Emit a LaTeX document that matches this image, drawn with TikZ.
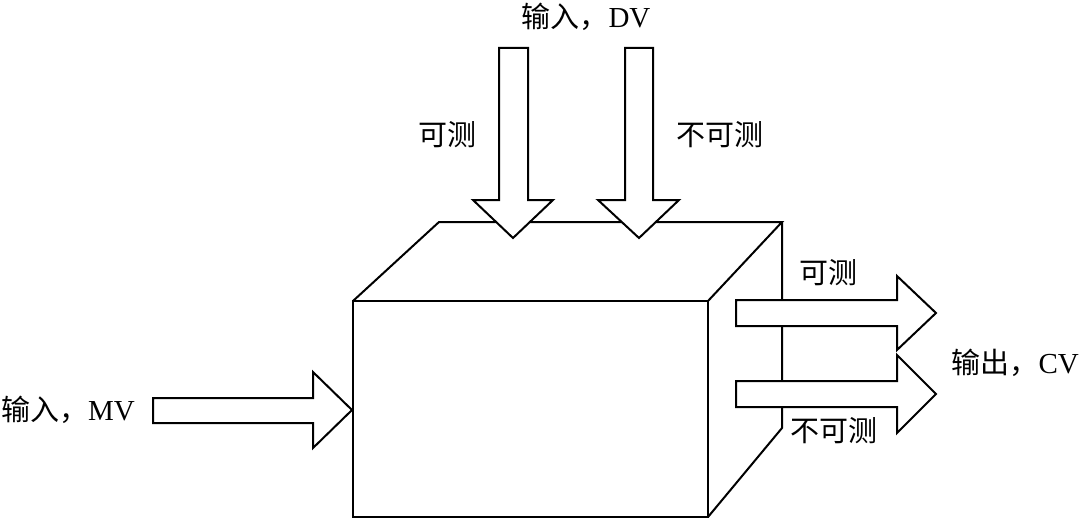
\documentclass[tikz,border=0pt]{standalone}
\usepackage{fontspec}
\setmainfont{Liberation Serif}
\newfontfamily\cjk{Noto Sans CJK SC}
\begin{document}
\begin{tikzpicture}[x=1pt,y=-1pt,
  edge/.style={draw=black,line width=2pt,line join=miter},
  fat/.style={draw=black,fill=white,line width=2pt,line join=miter},
  lbl/.style={inner sep=0pt,font=\fontsize{29}{31}\selectfont}]
\useasboundingbox (0,0) rectangle (1080,519);
% box
\draw[edge] (353,301) rectangle (708,517);
\draw[edge] (353,301) -- (439,222) -- (782,222) -- (708,301);
\draw[edge] (782,222) -- (782,428) -- (708,517);
% down arrows (DV)
\draw[fat] (499,48) -- (528,48) -- (528,200) -- (553,200) -- (513,238) -- (473,200) -- (499,200) -- cycle;
\draw[fat] (625,48) -- (653,48) -- (653,200) -- (679,200) -- (639,238) -- (598,200) -- (625,200) -- cycle;
% MV arrow
\draw[fat] (153,398) -- (313,398) -- (313,372) -- (352,410) -- (313,448) -- (313,423) -- (153,423) -- cycle;
% CV arrows
\draw[fat] (736,300) -- (897,300) -- (897,276) -- (936,313) -- (897,350) -- (897,326) -- (736,326) -- cycle;
\draw[fat] (736,381) -- (897,381) -- (897,355) -- (936,394) -- (897,433) -- (897,407) -- (736,407) -- cycle;
% labels
\node[lbl] (dv) at (586,17) {{\cjk 输入，}DV};
\node[lbl] (dvm) at (447,135) {\cjk 可测};
\node[lbl] (dvu) at (720,135) {\cjk 不可测};
\node[lbl,anchor=west] (mv) at (1,410) {{\cjk 输入，}MV};
\node[lbl] (cvm) at (828,273) {\cjk 可测};
\node[lbl] (cvu) at (834,431) {\cjk 不可测};
\node[lbl,anchor=east] (cv) at (1079,363) {{\cjk 输出，}CV};
\end{tikzpicture}
\end{document}
